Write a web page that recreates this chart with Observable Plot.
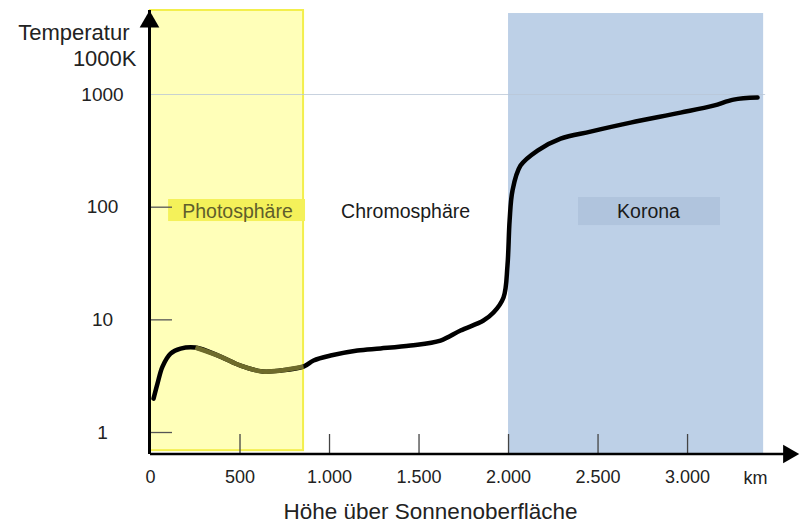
<!DOCTYPE html>
<html><head><meta charset="utf-8">
<script src="https://cdn.jsdelivr.net/npm/d3@7"></script>
<script src="https://cdn.jsdelivr.net/npm/@observablehq/plot@0.6"></script>
<style>body{margin:0;background:#fff} svg{display:block}</style>
</head><body><div id="chart"></div>
<script>
// Height above solar surface (km) and temperature (in 1000 K)
const heightKm = [17, 39, 67, 112, 168, 251, 391, 503, 626, 726, 855, 911, 1006, 1156, 1285, 1453, 1620, 1732, 1860, 1916, 1972, 1994, 2006, 2022, 2067, 2162, 2291, 2458, 2682, 2961, 3145, 3257, 3391];
const temperature = [2.0, 2.72, 3.85, 5.02, 5.56, 5.68, 4.72, 3.93, 3.48, 3.55, 3.85, 4.36, 4.82, 5.35, 5.57, 5.92, 6.55, 8.04, 9.86, 11.6, 15.8, 30.3, 76, 140, 234, 318, 406, 469, 563, 691, 798, 901, 939];

// Regions
const regionNames = ["Photosphäre", "Chromosphäre", "Korona"];
const regionLabelX = [486, 1425, 2782];
const photoStart = 0, photoEnd = 855;
const coronaStart = 2000, coronaEnd = 3425;

// Axes
const xTicks = [0, 500, 1000, 1500, 2000, 2500, 3000];
const xTickLabels = ["0", "500", "1.000", "1.500", "2.000", "2.500", "3.000"];
const xUnit = "km", xUnitPos = 3380;
const yTicks = [1, 10, 100, 1000];
const yTickLabels = ["1", "10", "100", "1000"];
const xTitle = "Höhe über Sonnenoberfläche";
const yTitle1 = "Temperatur", yTitle2 = "1000K";

const X_MAX = 3603, Y_MIN = 0.638, Y_MAX = 5570;

const pts = heightKm.map((h, i) => ({h, t: temperature[i]}));
const olivePts = pts.filter(d => d.h >= 251 && d.h <= photoEnd);
const tickLabel = new Map(xTicks.map((v, i) => [v, xTickLabels[i]]));
const yLabel = new Map(yTicks.map((v, i) => [v, yTickLabels[i]]));

const chart = Plot.plot({
  width: 800, height: 523,
  marginLeft: 150, marginRight: 5, marginTop: 10, marginBottom: 69,
  style: {fontFamily: "'Liberation Sans', Arial, sans-serif", background: "#fff", overflow: "visible"},
  x: {domain: [0, X_MAX], axis: null, label: null},
  y: {type: "log", domain: [Y_MIN, Y_MAX], axis: null, label: null},
  marks: [
    // bands
    Plot.rect([0], {x1: photoStart, x2: photoEnd, y1: 0.69, y2: Y_MAX, fill: "#ffffb9", stroke: "#f3ef4c", strokeWidth: 2}),
    Plot.rect([0], {x1: coronaStart, x2: coronaEnd, y1: Y_MIN, y2: 5236, fill: "#bdd0e7"}),
    // label boxes
    Plot.rect([0], {x1: 101, x2: 866, y1: 74.6, y2: 117, fill: "#f4f15a"}),
    Plot.rect([0], {x1: 2391, x2: 3184, y1: 68.7, y2: 121.9, fill: "#b0c4dd"}),
    // gridline at 1000
    Plot.ruleY([1000], {x1: 0, x2: 3436, stroke: "#b9c6d6", strokeOpacity: 0.8, strokeWidth: 1}),
    // y ticks
    Plot.ruleY([1, 10, 100], {x1: 0, x2: 0, insetRight: -22, stroke: "#555", strokeWidth: 1.3}),
    // x ticks
    Plot.ruleX(xTicks.slice(1), {y1: Y_MIN, y2: Y_MIN, insetTop: -20, stroke: "#444", strokeWidth: 1.3}),
    // curve
    Plot.line(pts, {x: "h", y: "t", curve: "catmull-rom", stroke: "#000", strokeWidth: 4.5, strokeLinecap: "round", strokeLinejoin: "round"}),
    Plot.line(olivePts, {x: "h", y: "t", curve: "catmull-rom", stroke: "#6e6b2b", strokeWidth: 4.6, strokeLinecap: "butt"}),
    // axes lines
    Plot.ruleX([0], {y1: Y_MIN, y2: Y_MAX, stroke: "#000", strokeWidth: 3, dx: -1}),
    Plot.ruleY([Y_MIN], {x1: 0, x2: X_MAX, stroke: "#000", strokeWidth: 2.5, dy: -0.5, insetRight: 8}),
    Plot.dot([0], {x: 0, y: Y_MAX, symbol: "triangle", r: 7.3, fill: "#000", stroke: null, dy: 11.3, dx: -1}),
    Plot.dot([0], {x: X_MAX, y: Y_MIN, symbol: "triangle", r: 6.9, rotate: 90, fill: "#000", stroke: null, dx: -7, dy: -0.5}),
    // axis labels
    Plot.axisX({ticks: xTicks, tickFormat: d => tickLabel.get(d), tickSize: 0, tickPadding: 16, fontSize: 18, fill: "#222", label: null}),
    Plot.text([xUnit], {x: xUnitPos, y: Y_MIN, text: d => d, dy: 24, fontSize: 18, fill: "#222"}),
    Plot.text(yTicks, {x: 0, y: d => d, text: d => yLabel.get(d), dx: -48, textAnchor: "middle", fontSize: 19, fill: "#222"}),
    Plot.text([xTitle], {x: 1564, y: Y_MIN, text: d => d, dy: 57, fontSize: 22.5, fill: "#222"}),
    Plot.text([yTitle1], {x: 0, y: Y_MAX, text: d => d, dx: -21, dy: 22, textAnchor: "end", fontSize: 22, fill: "#222"}),
    Plot.text([yTitle2], {x: 0, y: Y_MAX, text: d => d, dx: -14, dy: 48, textAnchor: "end", fontSize: 22, fill: "#222"}),
    // region labels
    Plot.text(regionNames, {x: (d, i) => regionLabelX[i], y: 91.5, text: d => d, fontSize: 19.5,
      fill: (d, i) => i === 0 ? "#5f5e2c" : "#1a1a1a"})
  ]
});
document.getElementById("chart").appendChild(chart);
</script>
</body></html>
